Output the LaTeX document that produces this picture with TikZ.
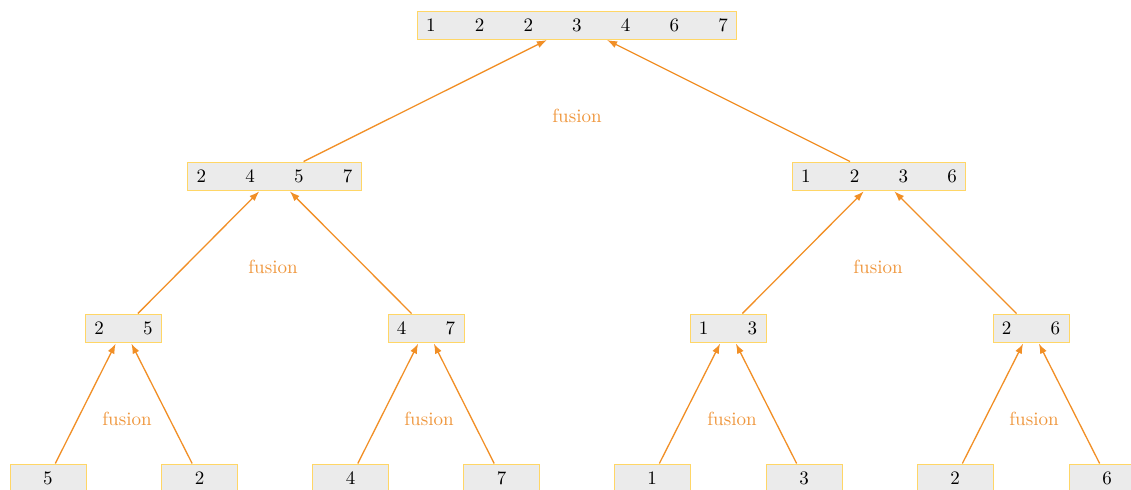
\documentclass[tikz,border=0pt]{standalone}
\usetikzlibrary{arrows.meta}
\definecolor{arrcol}{RGB}{241,143,38}
\definecolor{labcol}{RGB}{239,150,60}
\definecolor{boxborder}{RGB}{255,214,102}
\definecolor{boxfill}{RGB}{235,235,235}
\newcommand\gp{\hspace{19.6pt}}
\tikzset{
  cellbox/.style={draw=boxborder, fill=boxfill, line width=0.5pt, minimum height=14pt, minimum width=38pt, inner xsep=4.45pt, inner ysep=0pt, font=\fontsize{9.5pt}{11pt}\selectfont},
  arr/.style={draw=arrcol, line width=0.65pt, -{Latex[length=5pt,width=3.6pt]}, shorten >=0.6pt},
  lab/.style={text=labcol, font=\fontsize{9.5pt}{11pt}\selectfont}
}
\begin{document}
\begin{tikzpicture}[x=0.5pt,y=-0.5pt]
\useasboundingbox (0,0) rectangle (1131,489);
\clip (0,0) rectangle (1131,489);
% level 1
\node[cellbox] (r) at (577,25) {1\gp2\gp2\gp3\gp4\gp6\gp7};
% level 2
\node[cellbox] (a) at (274.5,176) {2\gp4\gp5\gp7};
\node[cellbox] (b) at (879,176) {1\gp2\gp3\gp6};
% level 3
\node[cellbox] (aa) at (123.5,328) {2\gp5};
\node[cellbox] (ab) at (426,328) {4\gp7};
\node[cellbox] (ba) at (728,328) {1\gp3};
\node[cellbox] (bb) at (1031,328) {2\gp6};
% level 4
\node[cellbox] (aaa) at (48,478) {5};
\node[cellbox] (aab) at (199.5,478) {2};
\node[cellbox] (aba) at (350.5,478) {4};
\node[cellbox] (abb) at (501.5,478) {7};
\node[cellbox] (baa) at (652,478) {1};
\node[cellbox] (bab) at (804,478) {3};
\node[cellbox] (bba) at (955,478) {2};
\node[cellbox] (bbb) at (1107,478) {6};
% edges
\foreach \c/\p in {a/r,b/r,aa/a,ab/a,ba/b,bb/b,aaa/aa,aab/aa,aba/ab,abb/ab,baa/ba,bab/ba,bba/bb,bbb/bb}
  \draw[arr] (\c) -- (\p);
% labels
\node[lab] (l0) at (577,116) {fusion};
\node[lab] (l1) at (273,267) {fusion};
\node[lab] (l2) at (878,267) {fusion};
\node[lab] (l3) at (127,419) {fusion};
\node[lab] (l4) at (429,419) {fusion};
\node[lab] (l5) at (732,419) {fusion};
\node[lab] (l6) at (1034,419) {fusion};
\end{tikzpicture}
\end{document}
